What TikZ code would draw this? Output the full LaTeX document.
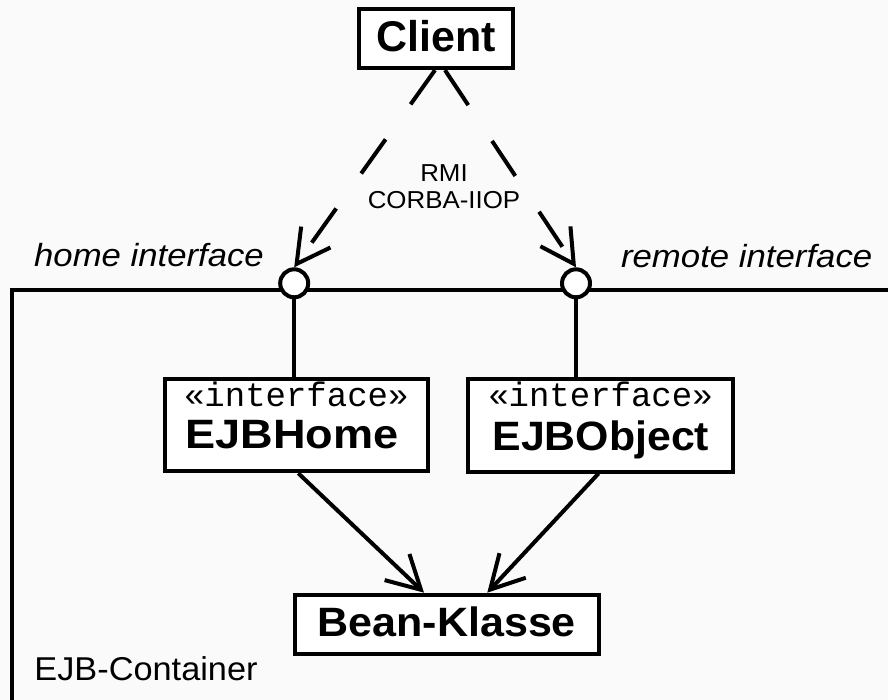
\documentclass[tikz,border=0pt]{standalone}
\usepackage{fontspec}
\setmainfont{Liberation Sans}
\setmonofont{Liberation Mono}
\usetikzlibrary{arrows.meta}
% horizontal widening of a piece of text
\newcommand\hstretch[2]{\scalebox{#1}[1]{#2}}
\begin{document}
\begin{tikzpicture}[x=1pt,y=-1pt,
  thick line/.style={line width=4pt},
  umlbox/.style={draw, line width=4pt, fill=white, inner sep=0pt},
  port/.style={circle, draw, line width=4pt, fill=white,
               minimum size=28pt, inner sep=0pt},
  open tip/.style={-{Straight Barb[length=33pt,width=36pt]}},
  call/.style={thick line, dash pattern=on 42pt off 43pt, open tip},
  uses/.style={thick line, open tip},
  classname/.style={font=\fontsize{41pt}{49pt}\selectfont\bfseries, anchor=base, inner sep=0pt},
  stereo/.style={font=\fontsize{34pt}{40pt}\selectfont\ttfamily, anchor=base, inner sep=0pt},
  portname/.style={font=\fontsize{32pt}{38pt}\selectfont\itshape, anchor=base, inner sep=0pt},
  protocol/.style={font=\fontsize{24.5pt}{27pt}\selectfont, anchor=base, inner sep=0pt},
  plain/.style={font=\fontsize{33pt}{39pt}\selectfont, anchor=base, inner sep=0pt}]

% canvas
\fill[white!98!black] (0,0) rectangle (888,700);
\useasboundingbox (0,0) rectangle (888,700);
\clip (0,0) rectangle (888,700);

% container frame
\draw[thick line] (11.7,710) -- (11.7,290) -- (900,290);
\node[plain] (container) at (146,680.7) {\hstretch{1.04}{EJB-Container}};

% boxes
\node[umlbox, minimum width=154pt, minimum height=59.5pt] (client) at (436,38.4) {};
\node[classname, font=\fontsize{43pt}{50pt}\selectfont\bfseries] (clientname) at (436,51.7) {Client};

\node[umlbox, minimum width=263.5pt, minimum height=92.5pt] (home) at (296.3,425) {};
\node[stereo] (homestereo) at (296.3,406.7) {«interface»};
\node[classname] (homename) at (292,448.5) {\hstretch{1.1}{EJBHome}};

\node[umlbox, minimum width=265pt, minimum height=93pt] (obj) at (600.5,425) {};
\node[stereo] (objstereo) at (600.5,406.7) {«interface»};
\node[classname] (objname) at (600.8,450) {\hstretch{1.045}{EJBObject}};

\node[umlbox, minimum width=304pt, minimum height=59.5pt] (bean) at (446.7,624.4) {};
\node[classname] (beanname) at (446.7,636.7) {\hstretch{1.05}{Bean-Klasse}};

% interface ports on the container edge
\node[port] (hp) at (294.2,283.3) {};
\node[port] (rp) at (576,283.3) {};
\node[portname] (hplabel) at (149,267) {\hstretch{1.085}{home interface}};
\node[portname] (rplabel) at (746.7,267.3) {\hstretch{1.087}{remote interface}};

% port to interface lines
\draw[thick line] (hp.south) -- (hp.south |- home.north);
\draw[thick line] (rp.south) -- (rp.south |- obj.north);

% remote calls from the client
\draw[call] ([xshift=-1pt]client.south) -- (hp.north);
\draw[call] ([xshift=9pt]client.south) -- (rp.north);
\node[protocol] (rmi) at (444,181.7) {\hstretch{1.056}{RMI}};
\node[protocol] (iiop) at (444,208.3) {\hstretch{1.056}{CORBA-IIOP}};

% delegation to the bean class
\draw[uses] ([xshift=2pt]home.south) -- ([xshift=-22.7pt]bean.north);
\draw[uses] ([xshift=-2pt]obj.south) -- ([xshift=40.6pt]bean.north);
\end{tikzpicture}
\end{document}
